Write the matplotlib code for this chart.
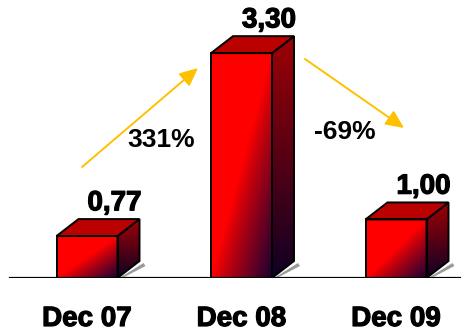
import numpy as np
import matplotlib
matplotlib.use("Agg")
import matplotlib.pyplot as plt
from matplotlib.patches import Polygon
from matplotlib.patches import FancyArrowPatch
import matplotlib.patheffects as pe

# Data
categories = ["Dec 07", "Dec 08", "Dec 09"]
values = [0.77, 3.30, 1.00]
value_labels = ["0,77", "3,30", "1,00"]
changes = ["331%", "-69%"]

plt.rcParams["font.family"] = ["Liberation Sans", "DejaVu Sans"]
heavy = [pe.withStroke(linewidth=0.9, foreground="black")]

W, H = 461, 332
fig = plt.figure(figsize=(W / 100, H / 100), dpi=100)
fig.patch.set_facecolor("white")

# axes layout: baseline 54 px above bottom, axes reaching the top
base_px = 54
ax = fig.add_axes([0, base_px / H, 1, (H - base_px) / H])
ax.set_axis_off()

y0 = 0.19                      # value at the floor line
px_per_unit = 72.3
y1 = y0 + (H - base_px) / px_per_unit
x_left = -87 / 154.5
x_right = (W - 87) / 154.5
px_per_x = 154.5

bar_w = 61 / px_per_x
dx = 22 / px_per_x             # depth offset (3D)
dy = 17 / px_per_unit

red = np.array([1.0, 0.0, 0.0])
dark = np.array([0.10, 0.0, 0.20])


def front_gradient(n=200, m=80):
    v = np.linspace(0, 1, n)[:, None]
    u = np.linspace(0, 1, m)[None, :]
    t = (u + v) / 2
    s = np.clip((t - 0.5) / 0.5, 0, 1) ** 0.9
    return red[None, None, :] * (1 - s[..., None]) + dark[None, None, :] * s[..., None]


def side_gradient(n=200):
    top = np.array([0.62, 0.0, 0.02])
    bot = np.array([0.06, 0.0, 0.14])
    v = np.linspace(0, 1, n)[:, None, None]
    g = top * (1 - v) + bot * v
    return np.repeat(g, 10, axis=1)


for i, (v, lab) in enumerate(zip(values, value_labels)):
    x0 = i - bar_w / 2
    x1 = i + bar_w / 2
    b = y0

    # shadow strip behind the lower right corner
    sh = Polygon([(x1 + 2 / px_per_x, b), (x1 + dx + 4 / px_per_x, b + dy - 2 / px_per_unit),
                  (x1 + dx + 6 / px_per_x, b + dy - 5 / px_per_unit), (x1 + 5 / px_per_x, b)],
                 closed=True, facecolor="#9a9a9a", edgecolor="none", zorder=1)
    ax.add_patch(sh)

    # side face
    side = Polygon([(x1, b), (x1 + dx, b + dy), (x1 + dx, v + dy), (x1, v)], closed=True,
                   facecolor="none", edgecolor="black", lw=1.4, zorder=4)
    ax.add_patch(side)
    im = ax.imshow(side_gradient(), extent=(x1, x1 + dx, b, v + dy), aspect="auto",
                   origin="upper", zorder=2, interpolation="bilinear")
    im.set_clip_path(side)

    # top face
    top = Polygon([(x0, v), (x1, v), (x1 + dx, v + dy), (x0 + dx, v + dy)], closed=True,
                  facecolor="#bb0000", edgecolor="black", lw=1.4, zorder=4)
    ax.add_patch(top)

    # front face
    front = Polygon([(x0, b), (x1, b), (x1, v), (x0, v)], closed=True,
                    facecolor="none", edgecolor="black", lw=1.4, zorder=5)
    ax.add_patch(front)
    im2 = ax.imshow(front_gradient(), extent=(x0, x1, b, v), aspect="auto",
                    origin="upper", zorder=3, interpolation="bilinear")
    im2.set_clip_path(front)

    # value label
    ax.annotate(lab, xy=(i + dx, v + dy), xytext=(4, 2), textcoords="offset points",
                ha="center", va="bottom", fontsize=20, fontweight="bold", color="black",
                path_effects=heavy, zorder=6)

    # category label
    ax.annotate(categories[i], xy=(i, y0), xytext=(0, -29.5), textcoords="offset points",
                ha="center", va="center", fontsize=20, fontweight="bold",
                color="black", path_effects=heavy,
                annotation_clip=False, zorder=6)

# floor line
ax.axhline(y0, xmin=10 / W, xmax=1, color="black", lw=1.6, zorder=6)

# trend arrows
arrow_color = "#ffc000"
style = "-|>,head_length=5,head_width=2.3"
a1 = FancyArrowPatch((-0.032, 1.725), (0.718, 3.094), arrowstyle=style,
                     color=arrow_color, lw=1.4, mutation_scale=2.2, zorder=6, shrinkA=0, shrinkB=0)
a2 = FancyArrowPatch((1.411, 3.219), (2.052, 2.265), arrowstyle=style,
                     color=arrow_color, lw=1.4, mutation_scale=2.2, zorder=6, shrinkA=0, shrinkB=0)
ax.add_patch(a1)
ax.add_patch(a2)

ax.text(0.48, 0.19 + (278 - 140) / px_per_unit, changes[0], ha="center", va="center",
        fontsize=19, fontweight="bold", color="black", zorder=6)
ax.text(1.67, 0.19 + (278 - 132) / px_per_unit, changes[1], ha="center", va="center",
        fontsize=19, fontweight="bold", color="black", zorder=6)

ax.set_xlim(x_left, x_right)
ax.set_ylim(y0, y1)

fig.savefig("out.png", dpi=100, facecolor="white")
